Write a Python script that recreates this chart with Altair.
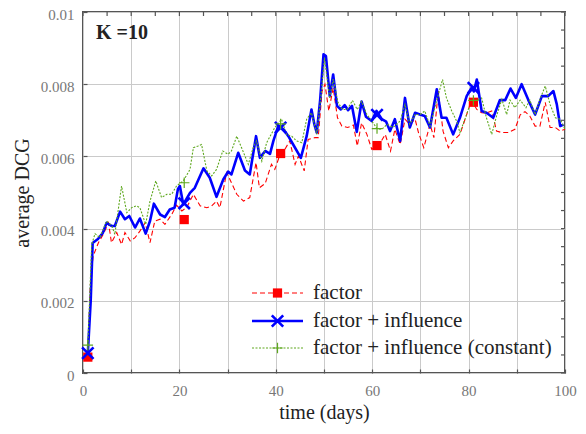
import altair as alt
import pandas as pd

FONT = "Liberation Serif, Times New Roman, serif"

# ---- data (values in units of 1e-3) ----
factor_days = [1, 1.5, 2.1, 3.2, 4.2, 5.3, 5.9, 7.0, 8.0, 8.7, 9.8, 10.8, 11.8, 12.9, 13.9, 14.9, 16.0, 17.0,
               18.4, 19.4, 20.5, 21.5, 22.9, 24.3, 25.7, 26.7, 27.7, 28.4, 29.8, 30.8, 31.9, 33.3, 34.6, 35.9,
               36.6, 37.8, 39.1, 39.8, 40.9, 41.9, 42.9, 44.0, 44.7, 45.9, 46.7, 48.1, 48.8, 49.6, 50.2, 51.0,
               51.9, 52.8, 53.7, 54.9, 56.1, 56.9, 57.8, 58.9, 59.9, 61.3, 62.7, 63.8, 64.7, 65.8, 66.8, 67.8,
               68.9, 69.6, 70.7, 72.0, 72.8, 73.7, 74.7, 75.8, 76.8, 78.2, 79.6, 80.6, 81.7, 82.7, 83.7, 84.8,
               85.8, 86.9, 88.2, 89.6, 90.7, 91.7, 92.7, 93.8, 94.8, 95.9, 96.9, 98.0, 99.0, 100]
factor_vals = [0.44, 2.4, 3.24, 3.61, 3.84, 4.16, 3.61, 3.89, 3.56, 3.89, 3.66, 3.75, 3.93, 4.16, 3.61, 4.21,
               4.26, 4.12, 4.39, 4.65, 4.49, 4.58, 4.95, 4.63, 4.58, 4.63, 4.76, 4.58, 5.55, 5.27, 4.95, 4.76,
               4.86, 5.83, 5.13, 5.25, 5.78, 5.64, 6.06, 6.2, 6.43, 5.78, 6.01, 5.6, 6.47, 6.52, 6.52, 7.81,
               8.0, 7.26, 7.9, 7.07, 6.84, 6.8, 6.87, 6.29, 6.93, 6.61, 6.2, 6.29, 6.61, 6.15, 6.75, 6.33,
               7.03, 6.89, 7.03, 6.66, 6.24, 6.89, 6.52, 7.81, 6.7, 6.24, 6.43, 6.61, 7.16, 7.56, 7.3, 7.21,
               7.2, 7.26, 6.7, 6.66, 6.66, 6.75, 7.15, 7.24, 7.12, 6.84, 6.84, 7.5, 6.8, 6.8, 6.7, 6.75]

influence_days = [1, 1.6, 2.0, 3.1, 4.1, 4.9, 6.0, 6.6, 7.7, 8.7, 9.6, 10.8, 11.8, 13.0, 13.9, 14.7, 16.0,
                  17.0, 18.0, 19.0, 19.7, 20.1, 20.8, 22.2, 23.2, 25.0, 26.3, 27.7, 29.1, 30.1, 30.8, 32.2,
                  33.6, 34.6, 35.9, 36.7, 37.8, 38.8, 39.5, 40.5, 41.6, 42.6, 43.6, 45.2, 46.4, 47.4, 48.0,
                  48.5, 49.2, 49.9, 50.4, 51.2, 51.9, 52.7, 53.5, 54.3, 55.0, 55.8, 56.8, 57.8, 58.7, 59.9,
                  60.9, 62.0, 62.9, 63.7, 64.7, 65.8, 66.8, 67.8, 68.9, 69.9, 70.9, 72.0, 73.4, 74.4, 75.4,
                  76.8, 78.2, 79.6, 80.6, 81.1, 81.7, 82.7, 83.7, 85.1, 86.5, 87.6, 88.7, 89.8, 91.0, 92.4,
                  93.8, 95.2, 96.5, 97.6, 98.3, 99.0, 99.7]
influence_vals = [0.55, 2.0, 3.6, 3.71, 3.88, 4.16, 4.07, 4.07, 4.47, 4.26, 4.35, 4.03, 4.28, 3.86, 4.21,
                  4.69, 4.39, 4.32, 4.53, 4.58, 5.1, 5.18, 4.67, 4.99, 5.13, 5.67, 5.41, 4.88, 5.36, 5.58,
                  5.5, 6.1, 5.61, 5.5, 6.56, 5.96, 6.15, 6.07, 6.43, 6.84, 6.75, 6.56, 6.33, 5.96, 6.56, 7.3,
                  6.89, 6.66, 7.56, 8.83, 8.78, 7.67, 8.27, 7.4, 7.3, 7.42, 7.28, 7.4, 6.68, 7.52, 7.1, 6.98,
                  7.26, 7.03, 6.96, 6.7, 7.03, 6.43, 7.62, 6.8, 7.21, 7.16, 7.12, 6.8, 7.86, 7.07, 7.07, 6.61,
                  7.07, 7.67, 7.9, 7.8, 8.13, 7.26, 7.21, 7.07, 7.56, 7.56, 7.88, 7.62, 8.0, 7.56, 7.16, 7.67,
                  7.67, 7.81, 7.44, 6.84, 6.88]

constant_days = [1, 1.8, 2.5, 3.5, 4.9, 6.0, 6.6, 8.0, 9.1, 10.1, 11.1, 11.8, 13.0, 13.9, 15.1, 16.3, 17.4,
                 18.4, 19.4, 20.8, 22.2, 22.9, 23.9, 24.6, 25.7, 26.7, 27.7, 29.0, 30.1, 30.8, 31.9, 32.9,
                 34.3, 35.3, 36.0, 37.1, 38.1, 39.8, 41.2, 42.2, 43.3, 44.3, 45.4, 46.4, 47.4, 48.5, 49.4,
                 50.1, 51.2, 51.9, 52.9, 53.8, 54.8, 55.9, 56.9, 57.8, 58.9, 59.9, 61.0, 62.0, 63.1, 64.3,
                 65.8, 66.8, 67.8, 68.9, 70.0, 70.9, 72.0, 73.4, 74.6, 75.4, 76.5, 77.5, 78.2, 79.6, 80.6,
                 81.7, 82.7, 83.7, 84.8, 85.8, 86.9, 87.9, 88.6, 89.6, 90.7, 91.9, 92.7, 93.8, 94.8, 95.9,
                 96.9, 98.0, 99.0, 100]
constant_vals = [0.77, 3.56, 3.86, 3.75, 4.21, 4.07, 3.84, 5.18, 4.44, 4.58, 4.63, 4.58, 4.12, 4.76, 5.32,
                 4.86, 4.95, 4.95, 5.18, 5.32, 5.64, 6.24, 6.29, 6.33, 5.6, 5.46, 5.64, 6.15, 6.06, 6.15, 6.56,
                 6.24, 5.78, 6.24, 6.43, 5.87, 6.38, 6.8, 7.03, 6.61, 6.56, 6.43, 6.38, 7.03, 7.21, 6.61, 7.72,
                 8.73, 7.6, 8.14, 7.5, 7.3, 7.3, 7.55, 7.3, 7.52, 7.16, 6.98, 6.77, 6.75, 6.89, 6.8, 6.98,
                 7.44, 6.89, 7.16, 7.16, 7.26, 6.84, 7.56, 8.13, 7.62, 7.26, 6.98, 6.66, 7.16, 7.58, 7.56,
                 7.62, 7.07, 6.61, 7.12, 7.58, 7.16, 7.56, 7.35, 7.56, 7.35, 7.56, 7.16, 7.58, 7.95, 7.44,
                 7.07, 7.03, 6.75]

marker_days = [1, 21, 41, 61, 81]
factor_marks = [0.44, 4.25, 6.08, 6.3, 7.5]
influence_marks = [0.55, 4.7, 6.8, 7.15, 7.9]
constant_marks = [0.77, 5.27, 6.9, 6.77, 7.55]

legend_labels = ["factor", "factor + influence", "factor + influence (constant)"]
x_ticks = list(range(0, 101, 5))
y_ticks = [round(i * 0.0005, 4) for i in range(21)]

RED, BLUE, GREEN = "#ff0000", "#0000ff", "#5fa81f"
X_PATH = "M-1,-1L1,1M-1,1L1,-1"
PLUS_PATH = "M-1,0L1,0M0,-1L0,1"


def frame(days, vals):
    return pd.DataFrame({"day": days, "val": [v * 1e-3 for v in vals]})


xs = alt.Scale(domain=[0, 100], nice=False, zero=False)
ys = alt.Scale(domain=[0, 0.01], nice=False, zero=False)

ax_bottom = alt.Axis(values=x_ticks, format="d", labelExpr="datum.value % 20 == 0 ? datum.label : ''",
                     grid=True, gridColor="#cacaca", gridWidth=1, domain=False, tickColor="#555",
                     tickWidth=1.2, tickSize=4, offset=-4, labelPadding=10, labelColor="#777",
                     labelFont=FONT, labelFontSize=15, labelOverlap=False, labelFlush=False,
                     title="time (days)", titleFont=FONT, titleFontSize=20, titleFontWeight="normal",
                     titleColor="#222", titlePadding=4)
ax_left = alt.Axis(values=y_ticks,
                   labelExpr="round(datum.value*10000) % 20 == 0 ? format(datum.value, '~g') : ''",
                   grid=True, gridColor="#cacaca", gridWidth=1, domain=False, tickColor="#555",
                   tickWidth=1.2, tickSize=4, offset=-4, labelPadding=9, labelOffset=2, labelColor="#777",
                   labelFont=FONT, labelFontSize=15, labelOverlap=False, labelFlush=False,
                   title="average DCG", titleFont=FONT, titleFontSize=20, titleFontWeight="normal",
                   titleColor="#222", titlePadding=8)

red_line = alt.Chart(frame(factor_days, factor_vals)).mark_line(
    color=RED, strokeWidth=1.1, strokeDash=[5, 3]).encode(
    x=alt.X("day:Q", scale=xs, axis=ax_bottom), y=alt.Y("val:Q", scale=ys, axis=ax_left))
blue_line = alt.Chart(frame(influence_days, influence_vals)).mark_line(
    color=BLUE, strokeWidth=2.6, strokeJoin="round").encode(
    x=alt.X("day:Q", scale=xs), y=alt.Y("val:Q", scale=ys))
green_line = alt.Chart(frame(constant_days, constant_vals)).mark_line(
    color=GREEN, strokeWidth=1.1, strokeDash=[2, 1.5]).encode(
    x=alt.X("day:Q", scale=xs), y=alt.Y("val:Q", scale=ys))

red_pts = alt.Chart(frame(marker_days, factor_marks)).mark_point(
    shape="square", filled=True, color=RED, size=85, opacity=1).encode(
    x=alt.X("day:Q", scale=xs), y=alt.Y("val:Q", scale=ys))
blue_pts = alt.Chart(frame(marker_days, influence_marks)).mark_point(
    shape=X_PATH, filled=False, color=BLUE, size=130, strokeWidth=2.6, opacity=1).encode(
    x=alt.X("day:Q", scale=xs), y=alt.Y("val:Q", scale=ys))
green_pts = alt.Chart(frame(marker_days, constant_marks)).mark_point(
    shape=PLUS_PATH, filled=False, color=GREEN, size=110, strokeWidth=1.2, opacity=1).encode(
    x=alt.X("day:Q", scale=xs), y=alt.Y("val:Q", scale=ys))

# inward ticks on the top and right edges (mirrored axes)
top_ticks = alt.Chart(pd.DataFrame({"t": x_ticks})).mark_rule(color="#555", strokeWidth=1.2).encode(
    x=alt.X("t:Q", scale=xs), y=alt.value(0), y2=alt.value(4))
right_ticks = alt.Chart(pd.DataFrame({"t": y_ticks})).mark_rule(color="#555", strokeWidth=1.2).encode(
    y=alt.Y("t:Q", scale=ys), x=alt.value(478), x2=alt.value(482))

# ---- legend (inside, lower right) ----
leg_rows = [281, 309, 336]
LX0, LX1, LXM, LXT = 169, 220, 194.5, 230
leg_layers = []
styles = [
    dict(color=RED, strokeWidth=1.1, strokeDash=[5, 3]),
    dict(color=BLUE, strokeWidth=2.6),
    dict(color=GREEN, strokeWidth=1.1, strokeDash=[2, 1.5]),
]
markers = [
    dict(shape="square", filled=True, color=RED, size=85, opacity=1),
    dict(shape=X_PATH, filled=False, color=BLUE, size=130, strokeWidth=2.6, opacity=1),
    dict(shape=PLUS_PATH, filled=False, color=GREEN, size=110, strokeWidth=1.2, opacity=1),
]
for label, yy, st, mk in zip(legend_labels, leg_rows, styles, markers):
    d = pd.DataFrame({"label": [label]})
    leg_layers.append(alt.Chart(d).mark_rule(**st).encode(
        x=alt.value(LX0), x2=alt.value(LX1), y=alt.value(yy)))
    leg_layers.append(alt.Chart(d).mark_point(**mk).encode(x=alt.value(LXM), y=alt.value(yy)))
    leg_layers.append(alt.Chart(d).mark_text(align="left", baseline="middle", font=FONT, fontSize=21,
                                             color="#222").encode(
        x=alt.value(LXT), y=alt.value(yy), text="label:N"))

k_text = alt.Chart(pd.DataFrame({"t": ["K =10"]})).mark_text(
    align="left", baseline="alphabetic", font=FONT, fontSize=20, fontWeight="bold", color="#222").encode(
    x=alt.value(13), y=alt.value(27), text="t:N")

chart = alt.layer(red_line, blue_line, green_line, red_pts, blue_pts, green_pts,
                  top_ticks, right_ticks, k_text, *leg_layers).properties(
    width=482, height=361,
    autosize=alt.AutoSizeParams(type="none"),
    padding={"left": 75, "top": 4, "right": 13, "bottom": 53},
    background="white",
).configure_view(stroke="#555", strokeWidth=2)

chart.save("out.html", embed_options={"renderer": "svg", "actions": False})
